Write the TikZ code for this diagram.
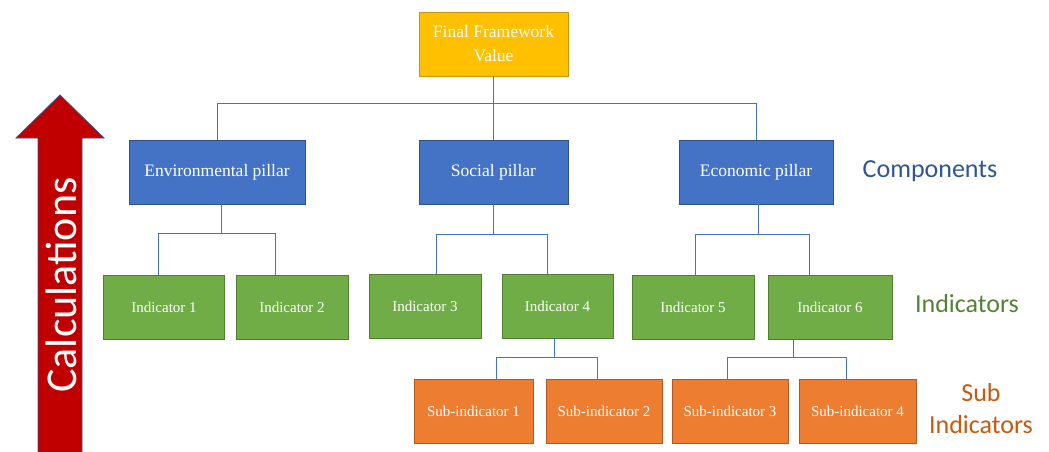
\documentclass[tikz,border=0pt]{standalone}
\usepackage{fontspec}
\setmainfont{Liberation Serif}
\newfontfamily\calibri{Carlito}
\usepackage{tikz}
\usetikzlibrary{positioning,calc}

\definecolor{fwyellow}{HTML}{FFC000}
\definecolor{fwyellowdk}{HTML}{C9980A}
\definecolor{fwblue}{HTML}{4472C4}
\definecolor{fwbluedk}{HTML}{2F528F}
\definecolor{fwgreen}{HTML}{70AD47}
\definecolor{fwgreendk}{HTML}{507E32}
\definecolor{fworange}{HTML}{ED7D31}
\definecolor{fworangedk}{HTML}{AE5A21}
\definecolor{fwred}{HTML}{C00000}
\definecolor{lblblue}{HTML}{2F5597}
\definecolor{lblgreen}{HTML}{548235}
\definecolor{lblorange}{HTML}{C55A11}

\begin{document}
\begin{tikzpicture}[x=1pt, y=-1pt,
    box/.style={draw, line width=0.9pt, text=white, minimum height=64pt,
                inner sep=2pt, align=center},
    topbox/.style={box, fill=fwyellow, draw=fwyellowdk,
                   font=\fontsize{17.5}{24}\selectfont},
    pillar/.style={box, fill=fwblue, draw=fwbluedk,
                   font=\fontsize{17.5}{21}\selectfont},
    indbox/.style={box, fill=fwgreen, draw=fwgreendk,
                   font=\fontsize{15}{18}\selectfont},
    subbox/.style={box, fill=fworange, draw=fworangedk,
                   font=\fontsize{15}{18}\selectfont},
    link/.style={draw=fwblue, line width=0.8pt},
    level/.style={font=\calibri\fontsize{26}{32}\selectfont, align=center},
   ]
    \useasboundingbox (0,0) rectangle (1049,452);

    % Calculations arrow -----------------------------------------------
    \filldraw[fill=fwred, draw=fwbluedk, line width=0.8pt]
        (38,452) -- (38,138) -- (16,138) -- (60,95) -- (104,138)
        -- (82,138) -- (82,452);
    \node[rotate=90, text=white, font=\calibri\fontsize{44}{50}\selectfont]
        (calc) at (61,285) {Calculations};

    % Boxes ------------------------------------------------------------
    \node[topbox, minimum width=149pt] (fin) at (493.5,44) {Final Framework\\Value};

    \node[pillar, minimum width=176pt] (env) at (217,172) {Environmental pillar};
    \node[pillar, minimum width=149pt] (soc) at (493.5,172) {Social pillar};
    \node[pillar, minimum width=154pt] (eco) at (756,172) {Economic pillar};

    \node[indbox, minimum width=121pt] (ind1) at (164,307) {Indicator 1};
    \node[indbox, minimum width=112pt] (ind2) at (292,307) {Indicator 2};
    \node[indbox, minimum width=112pt] (ind3) at (425,306) {Indicator 3};
    \node[indbox, minimum width=111pt] (ind4) at (557.5,306) {Indicator 4};
    \node[indbox, minimum width=122pt] (ind5) at (693,307) {Indicator 5};
    \node[indbox, minimum width=124pt] (ind6) at (830,307) {Indicator 6};

    \node[subbox, minimum width=119pt] (sub1) at (473.5,411) {Sub-indicator 1};
    \node[subbox, minimum width=116pt] (sub2) at (604,411) {Sub-indicator 2};
    \node[subbox, minimum width=116pt] (sub3) at (730,411) {Sub-indicator 3};
    \node[subbox, minimum width=117pt] (sub4) at (857.5,411) {Sub-indicator 4};

    % Connectors -------------------------------------------------------
    \draw[link] (fin.south) -- ++(0,27) coordinate (b0)
        -| (env.north) (b0) -| (soc.north) (b0) -| (eco.north);
    \draw[link] ([xshift=4pt]env.south) -- ++(0,29) coordinate (b1)
        -| ([xshift=-6pt]ind1.north) (b1) -| ([xshift=-17pt]ind2.north);
    \draw[link] (soc.south) -- ++(0,30) coordinate (b2)
        -| ([xshift=11pt]ind3.north) (b2) -| ([xshift=-10pt]ind4.north);
    \draw[link] ([xshift=2pt]eco.south) -- ++(0,30) coordinate (b3)
        -| ([xshift=2pt]ind5.north) (b3) -| ([xshift=-21pt]ind6.north);
    \draw[link] ([xshift=-3pt]ind4.south) -- ++(0,19) coordinate (b4)
        -| ([xshift=23pt]sub1.north) (b4) -| ([xshift=-7pt]sub2.north);
    \draw[link] ([xshift=-37pt]ind6.south) -- ++(0,18) coordinate (b5)
        -| ([xshift=-3pt]sub3.north) (b5) -| ([xshift=-11pt]sub4.north);

    % Level labels -----------------------------------------------------
    \node[level, text=lblblue] (lcomp) at (930,171) {Components};
    \node[level, text=lblgreen] (lind) at (967,304) {Indicators};
    \node[level, text=lblorange] (lsub) at (981,409) {Sub\\Indicators};
\end{tikzpicture}
\end{document}
